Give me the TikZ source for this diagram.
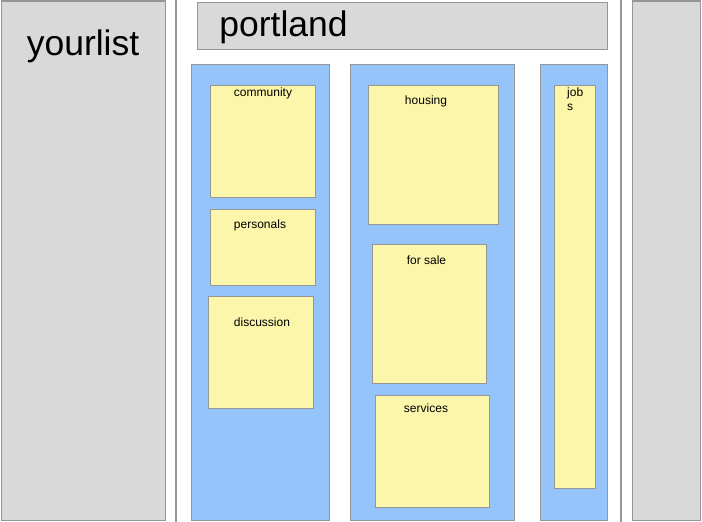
\documentclass[tikz,border=0pt]{standalone}
\usepackage{fontspec}
\setmainfont{Liberation Sans}
\definecolor{pgray}{RGB}{217,217,217}
\definecolor{pedge}{RGB}{150,150,150}
\definecolor{pblue}{RGB}{148,196,250}
\definecolor{pyellow}{RGB}{252,246,170}
\tikzset{
  graybox/.style={draw=pedge, fill=pgray, line width=1pt, inner sep=0pt},
  bluebox/.style={draw=pedge, fill=pblue, line width=1pt, inner sep=0pt},
  yelbox/.style={draw=pedge, fill=pyellow, line width=1pt, inner sep=0pt},
  bigtext/.style={font=\fontsize{35.5}{40}\selectfont, anchor=base, inner sep=0pt},
  smalltext/.style={font=\fontsize{12}{14}\selectfont, anchor=base, inner sep=0pt},
  divider/.style={draw=pedge, line width=2pt}
}
\newcommand{\pbox}[6]{% style, name, x1, y1, x2, y2
  \node[#1, minimum width=#5pt-#3pt, minimum height=#6pt-#4pt] (#2) at ({(#3+#5)/2},{(#4+#6)/2}) {};}
\begin{document}
\begin{tikzpicture}[x=1pt,y=-1pt]
\useasboundingbox (0,0) rectangle (702,522);
% dividers
\coordinate (d1t) at (176,0); \coordinate (d1b) at (176,522);
\coordinate (d2t) at (621,0); \coordinate (d2b) at (621,522);
\draw[divider] (d1t) -- (d1b);
\draw[divider] (d2t) -- (d2b);
% gray boxes
\pbox{graybox}{left}{1}{1}{165}{520}
\pbox{graybox}{right}{632}{1}{700}{520}
\pbox{graybox}{top}{197}{2}{607}{49}
\node[bigtext] (tyour) at (83,55) {yourlist};
\node[bigtext] (tport) at (283.5,36.5) {portland};
% blue columns
\pbox{bluebox}{c1}{191}{64}{329}{520}
\pbox{bluebox}{c2}{350}{64}{514}{520}
\pbox{bluebox}{c3}{540}{64}{607}{520}
% yellow boxes
\pbox{yelbox}{community}{210}{85}{315}{197}
\pbox{yelbox}{personals}{210}{209}{315}{285}
\pbox{yelbox}{discussion}{208}{296}{313}{408}
\pbox{yelbox}{housing}{368}{85}{498}{224}
\pbox{yelbox}{forsale}{372}{244}{486}{383}
\pbox{yelbox}{services}{375}{395}{489}{507}
\pbox{yelbox}{jobs}{554}{85}{595}{488}
% labels
\node[smalltext] (lcom) at (263,96.5) {community};
\node[smalltext] (lper) at (260,228) {personals};
\node[smalltext] (ldis) at (262,326) {discussion};
\node[smalltext] (lhou) at (426,104) {housing};
\node[smalltext] (lfor) at (426.5,264) {for sale};
\node[smalltext] (lser) at (426,412) {services};
\node[smalltext, anchor=base west] (ljob) at (567,96) {job};
\node[smalltext, anchor=base west] (ljobs) at (567,110) {s};
\end{tikzpicture}
\end{document}
